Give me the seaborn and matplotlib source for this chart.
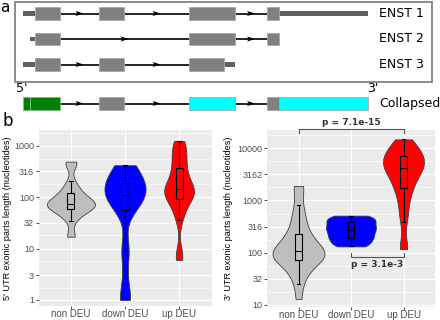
import numpy as np
import pandas as pd
import matplotlib
matplotlib.use('Agg')
import matplotlib.pyplot as plt
from matplotlib.patches import Rectangle, Polygon
import seaborn as sns

# ---- panel a: transcript models (schematic x units) ----
transcripts = ['ENST 1', 'ENST 2', 'ENST 3']
utr5 = [(23, 35), (30, 35), (23, 35)]
utr3 = [(279, 368), None, (224, 235)]
exons = [[(35, 60), (99, 124), (189, 235), (267, 279)],
         [(35, 60), (189, 235), (267, 279)],
         [(35, 60), (99, 124), (189, 224)]]
collapsed_parts = [(23, 30), (30, 60), (99, 124), (189, 235), (267, 279), (279, 368)]
collapsed_kind = ['5utr', '5utr', 'cds', '3utr', 'cds', '3utr']
kind_colors = {'5utr': '#008000', 'cds': '#808080', '3utr': '#00ffff'}

# ---- panel b: exonic part lengths (nucleotides) ----
groups = ['non DEU', 'down DEU', 'up DEU']
group_colors = ['#bebebe', '#0000ff', '#ff0000']

five_non = [17, 18, 35, 42, 48, 52, 56, 60, 63, 66, 69, 71, 72, 74, 76, 79, 83,
            89, 95, 105, 115, 126, 141, 166, 204, 427, 457, 490]
five_down = [1, 1, 1, 1, 2, 4, 9, 10, 11, 55, 60, 66, 72, 79, 87, 95, 100, 107,
             112, 120, 126, 132, 141, 150, 158, 166, 178, 191, 209, 229, 251,
             282, 316, 355, 380, 400, 417]
five_up = [6, 7, 8, 36, 45, 56, 71, 85, 95, 105, 110, 115, 120, 126, 132, 138,
           145, 155, 170, 190, 220, 260, 300, 363, 420, 500, 600, 720, 850,
           1000, 1120, 1230]

three_non = [13, 25, 35, 45, 56, 63, 69, 76, 81, 87, 91, 95, 100, 107, 115, 126,
             141, 158, 182, 204, 251, 316, 417, 562, 813, 1660, 1905]
three_down = [132, 141, 158, 178, 191, 209, 229, 251, 275, 295, 316, 347, 380,
              417, 447, 479, 513]
three_up = [117, 132, 389, 600, 900, 1300, 1700, 1900, 2300, 2800, 3300, 3700,
            4000, 4300, 4600, 5000, 5400, 5900, 6500, 7200, 7800, 8500, 9500,
            10500, 12000, 14791]

five_ticks = [1, 3, 10, 32, 100, 316, 1000]
three_ticks = [10, 32, 100, 316, 1000, 3162, 10000]
comparisons = [(0, 2, 'p = 7.1e-15'), (1, 2, 'p = 3.1e-3')]

W, H = 440, 320
fig = plt.figure(figsize=(W / 100, H / 100), dpi=100)

# overlay axes in pixel coordinates for the schematic and labels
ov = fig.add_axes([0, 0, 1, 1])
ov.set_xlim(0, W)
ov.set_ylim(H, 0)
ov.axis('off')
ov.patch.set_alpha(0)

ov.add_patch(Rectangle((15, 1.5), 417, 80.5, fill=False, ec='#8c8c8c', lw=1.4))
ov.text(0, 0, 'a', fontsize=11, va='top', ha='left')


def arrow(x, y):
    ov.add_patch(Polygon([(x - 4, y - 2.6), (x + 4, y), (x - 4, y + 2.6), (x - 2, y)],
                         closed=True, fc='black', ec='none', zorder=3))


def exon_box(x0, x1, y, h, color):
    ov.add_patch(Rectangle((x0, y - h / 2), x1 - x0, h, fc=color, ec='#a6a6a6',
                           lw=0.6, zorder=2))


row_y = [13.5, 39, 64.5]
thick, thin = 12.5, 4.5
for i, name in enumerate(transcripts):
    y = row_y[i]
    ex = exons[i]
    ov.plot([ex[0][1], ex[-1][0]], [y, y], color='black', lw=1.2, zorder=1)
    for a, b in zip(ex[:-1], ex[1:]):
        arrow((a[1] + b[0]) / 2, y)
    s, e = utr5[i]
    ov.add_patch(Rectangle((s, y - thin / 2), e - s, thin, fc='#606060', ec='none', zorder=2))
    if utr3[i] is not None:
        s, e = utr3[i]
        ov.add_patch(Rectangle((s, y - thin / 2), e - s, thin, fc='#606060', ec='none', zorder=2))
    for s, e in ex:
        exon_box(s, e, y, thick, '#808080')
    ov.text(379, y, name, fontsize=9, va='center', ha='left')

yc = 103.5
ov.plot([60, 267], [yc, yc], color='black', lw=1.2, zorder=1)
for a, b in [(60, 99), (124, 189), (235, 267)]:
    arrow((a + b) / 2, yc)
for (s, e), k in zip(collapsed_parts, collapsed_kind):
    ec = '#7fbf7f' if k == '5utr' else '#a6a6a6'
    ov.add_patch(Rectangle((s, yc - thick / 2), e - s, thick, fc=kind_colors[k],
                           ec=ec, lw=0.6, zorder=2))
ov.text(379, yc, 'Collapsed', fontsize=9, va='center', ha='left')
ov.text(16, 89, "5'", fontsize=9, va='center', ha='left')
ov.text(367, 89, "3'", fontsize=9, va='center', ha='left')
ov.text(2, 112, 'b', fontsize=12, va='top', ha='left')


def draw_panel(px, values, widths, ticks, ylim, ylabel, label_x):
    x0, y0, x1, y1 = px
    ax = fig.add_axes([x0 / W, (H - y1) / H, (x1 - x0) / W, (y1 - y0) / H])
    df = pd.DataFrame({'group': np.repeat(groups, [len(v) for v in values]),
                       'len': np.log10(np.concatenate(values).astype(float))})
    for g, c, w in zip(groups, group_colors, widths):
        sns.violinplot(data=df[df.group == g], x='group', y='len', order=groups,
                       color=c, saturation=1, cut=0, inner=None,
                       density_norm='width', width=w, bw_adjust=0.65,
                       linewidth=0.6, linecolor='#404040', ax=ax)
    sns.boxplot(data=df, x='group', y='len', order=groups, width=0.13, fill=False,
                color='black', linewidth=0.8, showfliers=False, ax=ax)
    ax.set_facecolor('#ebebeb')
    for sp in ax.spines.values():
        sp.set_visible(False)
    major = np.log10(ticks)
    ax.set_yticks(major)
    ax.set_yticklabels([str(t) for t in ticks])
    ax.set_yticks(np.append(major - 0.25, major[-1] + 0.25), minor=True)
    ax.set_ylim(*ylim)
    ax.set_xlim(-0.6, 2.6)
    ax.grid(which='major', color='white', lw=0.9)
    ax.grid(which='minor', axis='y', color='white', lw=0.45)
    ax.set_axisbelow(True)
    ax.tick_params(which='major', length=2, width=0.6, color='#333333',
                   labelcolor='#4d4d4d', pad=1.2)
    ax.tick_params(axis='x', pad=0.3)
    ax.tick_params(which='minor', length=0)
    ax.tick_params(axis='y', labelsize=6.5, labelfontfamily='Liberation Sans')
    ax.tick_params(axis='x', labelsize=7, labelfontfamily='Liberation Sans')
    ax.set_xlabel('')
    ax.set_ylabel(ylabel, fontsize=6.6, family='Liberation Sans')
    ax.yaxis.set_label_coords(label_x, 0.5)
    return ax


ax1 = draw_panel((38.5, 130, 211.5, 306), [five_non, five_down, five_up],
                 [0.89, 0.76, 0.55], five_ticks, (-0.117, 3.305),
                 "5' UTR exonic parts length (nucleotides)", -0.155)
ax2 = draw_panel((267, 130, 435, 307), [three_non, three_down, three_up],
                 [0.99, 0.95, 0.78], three_ticks, (0.96, 4.35),
                 "3' UTR exonic parts length (nucleotides)", -0.2)

# significance brackets (line, tick end, text height in log10 units)
bracket_y = [(4.37, 4.29, 4.49), (1.91, 2.0, 1.77)]
for (i, j, txt), (yl, yt, ytxt) in zip(comparisons, bracket_y):
    ax2.plot([i, i, j, j], [yt, yl, yl, yt], color='#555555', lw=0.8, clip_on=False)
    ax2.text((i + j) / 2, ytxt, txt, fontsize=6.5, fontweight='bold', ha='center',
             va='center', color='#333333')

fig.savefig('out.png', dpi=100)
